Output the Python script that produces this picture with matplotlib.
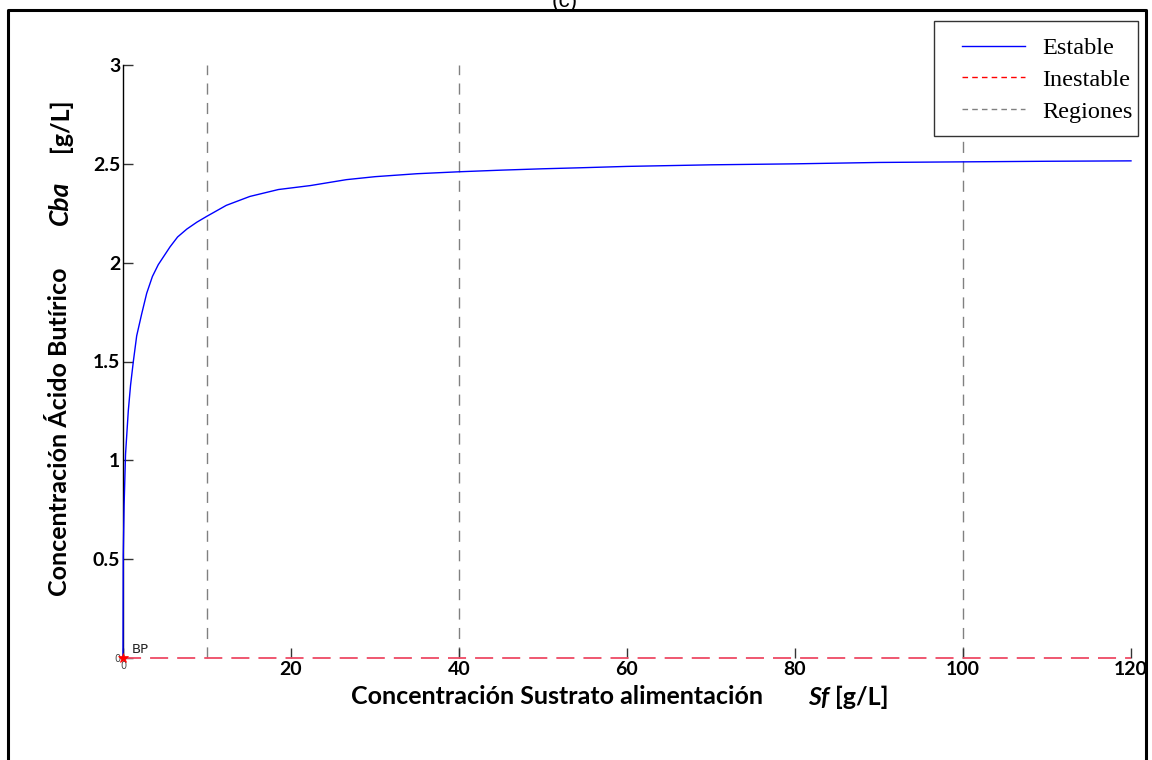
import matplotlib
matplotlib.use("Agg")
import matplotlib.pyplot as plt
from matplotlib.lines import Line2D
from matplotlib.patches import Rectangle

# ---- data ----
sf_stable = [0, 0.03, 0.13, 0.30, 0.63, 0.90, 1.23, 1.63, 2.22, 2.82, 3.5, 4.2,
             5.6, 6.5, 7.6, 8.8, 10.0, 12.3, 15.1, 18.5, 22.3, 26.6, 30.0, 35.0,
             40.1, 45.0, 50.0, 54.4, 60.0, 70.0, 80.0, 90.0, 100.0, 110.0, 120.0]
cba_stable = [0, 0.52, 0.77, 1.03, 1.25, 1.38, 1.50, 1.63, 1.74, 1.845, 1.93, 1.99,
              2.08, 2.13, 2.17, 2.205, 2.235, 2.29, 2.335, 2.37, 2.39, 2.42, 2.435,
              2.45, 2.46, 2.468, 2.475, 2.48, 2.487, 2.495, 2.50, 2.507, 2.51,
              2.513, 2.515]
sf_unstable = [0, 120]
cba_unstable = [0, 0]
region_bounds = [10, 40, 100]
bp_point = (0, 0)
xticks = [0, 20, 40, 60, 80, 100, 120]
yticks = [0, 0.5, 1, 1.5, 2, 2.5, 3]
legend_labels = ["Estable", "Inestable", "Regiones"]

W, H = 1152, 760
fig = plt.figure(figsize=(W / 100, H / 100), dpi=100)
ax = fig.add_axes([123 / W, 1 - 658 / H, (1131 - 123) / W, (658 - 65) / H])

ax.set_xlim(0, 120)
ax.set_ylim(0, 3)

blue = (0, 0, 1)
red = "#ee4a64"
gray = "#808080"

for xb in region_bounds:
    ax.plot([xb, xb], [0, 3], color=gray, lw=1, dashes=(8, 6), zorder=1,
            clip_on=False)
ax.plot(sf_unstable, cba_unstable, color=red, lw=1.3, dashes=(10, 5), zorder=2,
        clip_on=False)
ax.plot(sf_stable, cba_stable, color=blue, lw=1.0, zorder=3, clip_on=False)
ax.plot([bp_point[0]], [bp_point[1]], marker="*", color="red", ms=7, mew=0.5,
        zorder=4, clip_on=False)
ax.text(1.0, 0.01, "BP", fontsize=9.5, family="DejaVu Sans", color="#222222",
        va="bottom", ha="left")

for s in ["top", "right", "bottom"]:
    ax.spines[s].set_visible(False)
ax.spines["left"].set_color("black")
ax.spines["left"].set_linewidth(1.0)

ax.set_xticks(xticks)
ax.set_yticks(yticks)
ax.set_xticklabels([str(v) for v in xticks])
ax.set_yticklabels(["0", "0.5", "1", "1.5", "2", "2.5", "3"])
ax.tick_params(axis="both", direction="in", length=7, width=1, color="#333333",
               labelsize=14, pad=2)
for lab in ax.get_xticklabels() + ax.get_yticklabels():
    lab.set_family("Lato")
    lab.set_fontweight("bold")
xl = ax.get_xticklabels()
yl = ax.get_yticklabels()
for lab in (xl[0], yl[0]):
    lab.set_fontsize(7)
    lab.set_fontweight("normal")
    lab.set_color("#444444")
    lab.set_family("DejaVu Sans")

# axis labels
lab_font = dict(family="Lato", fontweight="bold", fontsize=18)
fig.text(557 / W, 1 - 697 / H, "Concentración Sustrato alimentación",
         ha="center", va="center", **lab_font)
fig.text(819 / W, 1 - 697 / H, "Sf", ha="center", va="center",
         style="italic", **lab_font)
fig.text(862 / W, 1 - 697 / H, "[g/L]", ha="center", va="center", **lab_font)

fig.text(60 / W, 1 - 432 / H, "Concentración Ácido Butírico", rotation=90,
         ha="center", va="center", **lab_font)
fig.text(60 / W, 1 - 203 / H, "Cba", rotation=90, ha="center", va="center",
         style="italic", fontsize=19,
         **{k: v for k, v in lab_font.items() if k != "fontsize"})
fig.text(60 / W, 1 - 125 / H, "[g/L]", rotation=90, ha="center", va="center",
         **lab_font)

# legend (MATLAB-style box with wide left padding)
fig.add_artist(Rectangle((934 / W, 1 - 136 / H), (1138 - 934) / W,
                         (136 - 21) / H, transform=fig.transFigure,
                         facecolor="white", edgecolor="#333333", lw=1.0,
                         zorder=5))
handles = [Line2D([], [], color=blue, lw=1.0),
           Line2D([], [], color="red", lw=1.0, dashes=(4, 3)),
           Line2D([], [], color=gray, lw=1.0, dashes=(4, 3))]
leg = fig.legend(handles, legend_labels, loc="center left",
                 bbox_to_anchor=(962 / W, 1 - 80 / H),
                 prop=dict(family="Liberation Serif", size=17.5),
                 frameon=False, handlelength=2.6, handletextpad=0.7,
                 borderpad=0, labelspacing=0.4, borderaxespad=0)
leg.set_zorder(6)

# outer frame of the screenshot
fx0, fx1, fy1 = 8 / W, 1146 / W, 1 - 10 / H
fig.add_artist(Line2D([fx0, fx0, fx1, fx1], [-0.05, fy1, fy1, -0.05],
                      transform=fig.transFigure, color="black", lw=2.2))

# partially cut title
fig.text(565 / W, 1 - 1 / H, "(c)", ha="center", va="center", fontsize=16,
         family="Liberation Sans")

fig.savefig("out.png", dpi=100)
